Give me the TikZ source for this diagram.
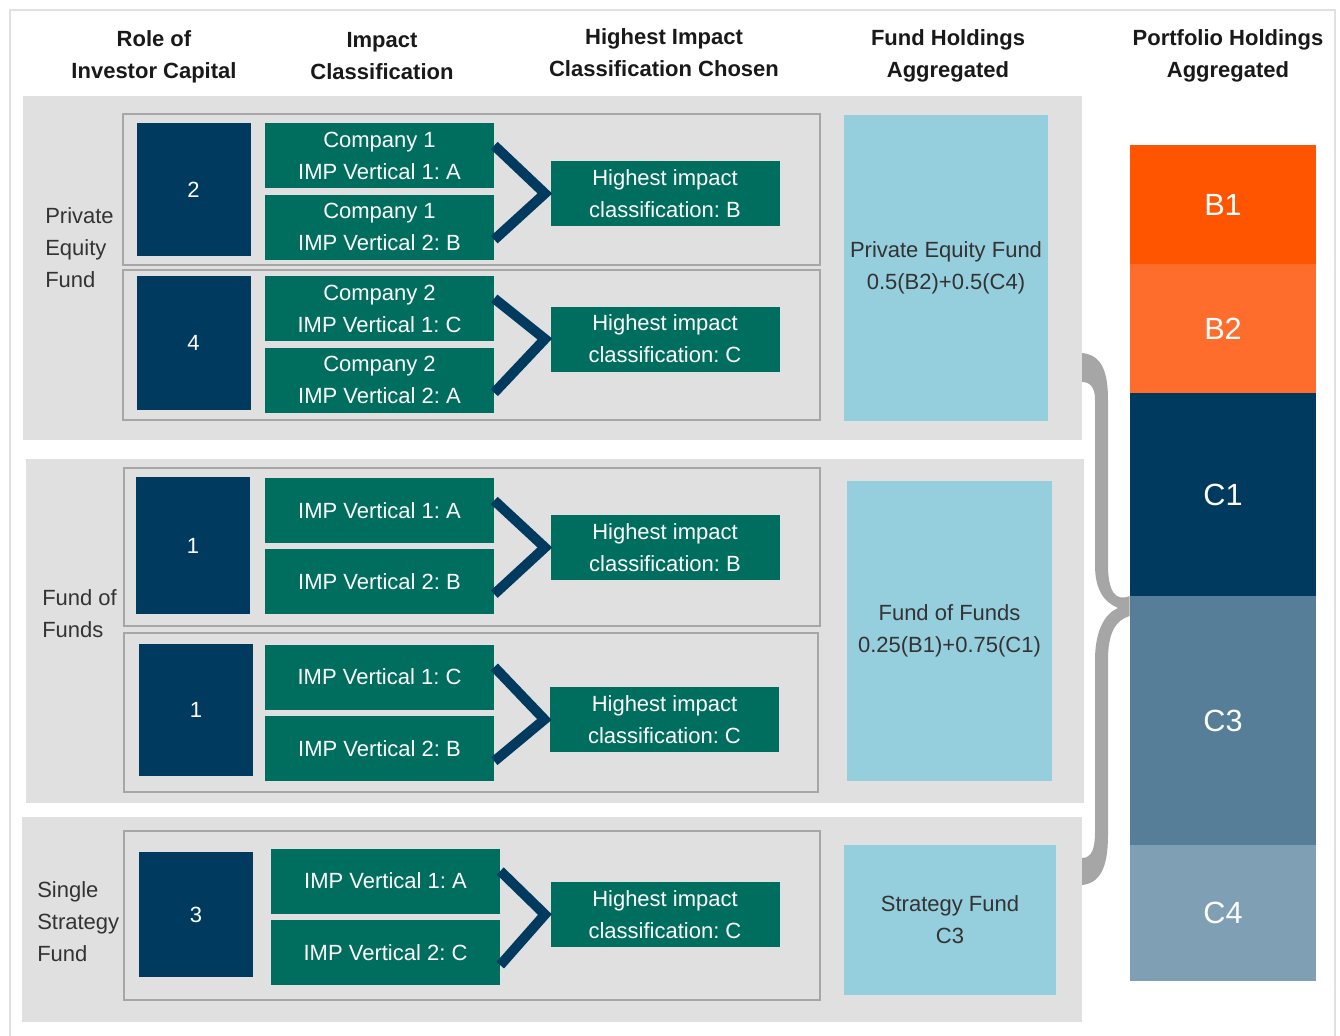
\documentclass[tikz,border=0pt]{standalone}
\usepackage{fontspec}
\setmainfont{Liberation Sans}
\usetikzlibrary{positioning}
\frenchspacing

\definecolor{bggray}{HTML}{E0E0E0}
\definecolor{boxgray}{HTML}{A6A6A6}
\definecolor{navy}{HTML}{003A5E}
\definecolor{impgreen}{HTML}{006E5F}
\definecolor{fundblue}{HTML}{95CEDC}
\definecolor{barB1}{HTML}{FF5400}
\definecolor{barB2}{HTML}{FF6D2D}
\definecolor{barC3}{HTML}{567E98}
\definecolor{barC4}{HTML}{7F9FB4}
\definecolor{txtgray}{HTML}{333333}

\begin{document}
\begin{tikzpicture}[x=0.75pt,y=-0.75pt]
\tikzset{T/.style={font=\fontsize{16.5}{24}\selectfont}}
\tikzset{H/.style={T,font=\fontsize{16.5}{24}\selectfont\bfseries,text=black!90,align=center}}
\tikzset{N/.style={T,rectangle,fill=navy,text=white,minimum width=85.5pt,inner sep=0pt}}
\tikzset{G/.style={T,rectangle,fill=impgreen,text=white,align=center,minimum width=171.75pt,minimum height=48.75pt,inner sep=0pt}}
\tikzset{F/.style={T,rectangle,fill=fundblue,text=txtgray,align=center,inner sep=0pt}}
\tikzset{L/.style={T,text=txtgray,align=left,anchor=west,inner sep=0pt}}
\tikzset{bar/.style={rectangle,text=white,minimum width=139.5pt,inner sep=0pt,font=\fontsize{23}{26}\selectfont}}
\tikzset{chev/.style={draw=navy,line width=7.5pt,line join=miter}}
\tikzset{sub/.style={draw=boxgray,line width=2pt}}

  \useasboundingbox (0,0) rectangle (1340,1036);
  \draw[bggray,line width=1.5pt] (10,1040) -- (10,10) -- (1335,10) -- (1335,1040);

  % column heads
  \node[H] (h-role) at (154,57) {Role of\\Investor Capital};
  \node[H] (h-imp)  at (382,56) {Impact\\Classification};
  \node[H] (h-high) at (664,53) {Highest Impact\\Classification Chosen};
  \node[H] (h-fund) at (948,56) {Fund Holdings\\Aggregated};
  \node[H] (h-port) at (1228,56) {Portfolio Holdings\\Aggregated};

  % backgrounds
  \fill[bggray] (23,96) rectangle (1082,440);
  \fill[bggray] (26,459) rectangle (1084,803);
  \fill[bggray] (22,817) rectangle (1082,1022);
  \draw[sub] (123,114) rectangle (820,265);
  \draw[sub] (123,270) rectangle (820,420);
  \draw[sub] (124,468) rectangle (820,626);
  \draw[sub] (124,633) rectangle (818,792);
  \draw[sub] (124,831) rectangle (820,1000);

  % private equity fund
  \node[L] (l-pe) at (45,248) {Private\\Equity\\Fund};
  \node[N,minimum height=99.75pt] (n2) at (193.5,189.5) {2};
  \node[G] (g1a) at (379.5,155.5) {Company 1\\IMP Vertical 1: A};
  \node[G] (g1b) at (379.5,227) {Company 1\\IMP Vertical 2: B};
  \node[G] (h1) at (665,193.5) {Highest impact\\classification: B};
  \node[N,minimum height=100.5pt] (n4) at (193.5,343) {4};
  \node[G] (g2a) at (379.5,308.5) {Company 2\\IMP Vertical 1: C};
  \node[G] (g2b) at (379.5,380) {Company 2\\IMP Vertical 2: A};
  \node[G] (h2) at (665,339) {Highest impact\\classification: C};
  \node[F,minimum width=153pt,minimum height=229.5pt] (f-pe) at (946,268) {Private Equity Fund\\0.5(B2)+0.5(C4)};

  % fund of funds
  \node[L] (l-fof) at (42,614) {Fund of\\Funds};
  \node[N,minimum height=102.75pt] (n1a) at (193,545.5) {1};
  \node[G] (g3a) at (379.5,510.5) {IMP Vertical 1: A};
  \node[G] (g3b) at (379.5,581.5) {IMP Vertical 2: B};
  \node[G] (h3) at (665,547.5) {Highest impact\\classification: B};
  \node[N,minimum height=99pt] (n1b) at (196,710) {1};
  \node[G] (g4a) at (379.5,677) {IMP Vertical 1: C};
  \node[G] (g4b) at (379.5,748.5) {IMP Vertical 2: B};
  \node[G] (h4) at (664.5,719.5) {Highest impact\\classification: C};
  \node[F,minimum width=153.75pt,minimum height=225pt] (f-fof) at (949.5,631) {Fund of Funds\\0.25(B1)+0.75(C1)};

  % single strategy fund
  \node[L] (l-ss) at (37,922) {Single\\Strategy\\Fund};
  \node[N,minimum height=93.75pt] (n3) at (196,914.5) {3};
  \node[G] (g5a) at (385.5,881) {IMP Vertical 1: A};
  \node[G] (g5b) at (385.5,952.5) {IMP Vertical 2: C};
  \node[G] (h5) at (665,914.5) {Highest impact\\classification: C};
  \node[F,minimum width=159pt,minimum height=112.5pt] (f-ss) at (950,920) {Strategy Fund\\C3};

  \draw[chev] ([yshift=7.5pt]g1a.east) -- ([xshift=-4pt]h1.west) -- ([yshift=-9.5pt]g1b.east);
  \draw[chev] ([yshift=7.5pt]g2a.east) -- ([xshift=-4pt]h2.west) -- ([yshift=-9.5pt]g2b.east);
  \draw[chev] ([yshift=7.5pt]g3a.east) -- ([xshift=-4pt]h3.west) -- ([yshift=-9.5pt]g3b.east);
  \draw[chev] ([yshift=7.5pt]g4a.east) -- ([xshift=-4pt]h4.west) -- ([yshift=-9.5pt]g4b.east);
  \draw[chev] ([yshift=7.5pt]g5a.east) -- ([xshift=-4pt]h5.west) -- ([yshift=-9.5pt]g5b.east);

  % portfolio bars
  \node[bar,fill=barB1,minimum height=89.25pt] (b1) at (1223,204.5) {B1};
  \node[bar,fill=barB2,minimum height=97.5pt,below=-0.6pt of b1] (b2) {B2};
  \node[bar,fill=navy,minimum height=152.25pt,below=-0.6pt of b2] (c1) {C1};
  \node[bar,fill=barC3,minimum height=186.75pt,below=-0.6pt of c1] (c3) {C3};
  \node[bar,fill=barC4,minimum height=102pt,below=-0.6pt of c3] (c4) {C4};

  % brace
  \fill[boxgray] (1082,353) .. controls (1102,355) and (1108,372) .. (1108,400)
    -- (1108,565) .. controls (1108,592) and (1116,602) .. (c3.north west)
    -- ([yshift=-15pt]c3.north west) .. controls (1116,620) and (1108,632) .. (1108,660)
    -- (1108,835) .. controls (1108,868) and (1100,883) .. (1082,885)
    -- (1082,858) .. controls (1092,858) and (1095,848) .. (1095,832)
    -- (1095,660) .. controls (1095,632) and (1104,614) .. (1118,608)
    .. controls (1104,602) and (1095,590) .. (1095,565)
    -- (1095,400) .. controls (1095,390) and (1092,382) .. (1082,382) -- cycle;
\end{tikzpicture}
\end{document}
